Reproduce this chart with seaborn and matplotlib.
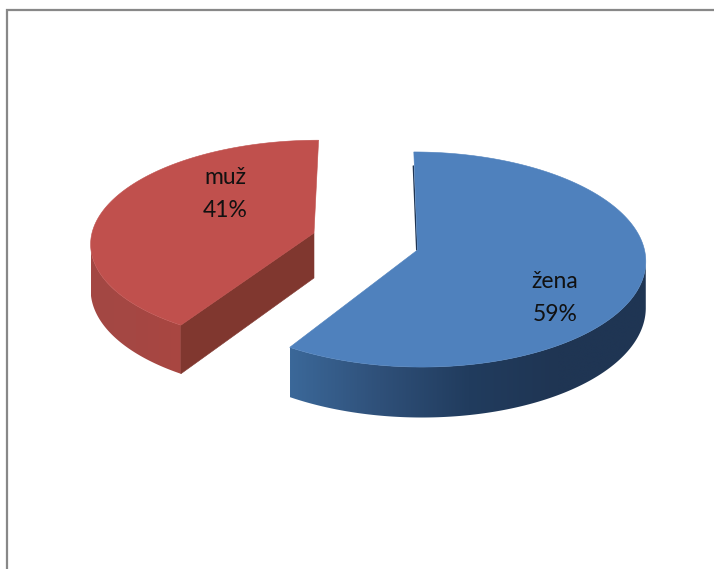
import numpy as np
import matplotlib
matplotlib.use("Agg")
import matplotlib.pyplot as plt
from matplotlib.patches import Polygon
import seaborn as sns

categories = ["žena", "muž"]
values = [59, 41]
top_colors = ["#4f81bd", "#c0504d"]
wall_ramps = [["#3b6899", "#2f5079", "#213c5e", "#1f3553", "#1f3553"],
              ["#a34844", "#a54743", "#a94641"]]
cut_colors = ["#1f3553", "#80372f"]

# layout of each exploded slice: centre x, centre y, radii, perspective, skew, depth
layouts = [dict(xc=417.5, yc=250, a=227, b=106.7, k=0.0884, skew=4, d=46),
           dict(xc=314, yc=233, a=222, b=101, k=0.0884, skew=-5, d=45)]
label_pos = [(555, 298), (225, 194)]

sns.set_theme(style="white")
plt.rcParams["font.family"] = ["Lato", "DejaVu Sans"]
fig = plt.figure(figsize=(7.14, 5.69), dpi=100)
ax = fig.add_axes([0, 0, 1, 1])

# chart frame (right and bottom run off the crop)
ax.plot([7, 7, 720], [575, 10, 10], color="#888888", lw=1.6, solid_joinstyle="miter")


def project(theta, L, drop=0.0):
    u, v = np.sin(theta), -np.cos(theta)
    w = 1 - L["k"] * v
    return (L["xc"] + L["a"] * u / w + L["skew"] * v / w,
            L["yc"] + L["b"] * v / w + drop * L["d"] / w)


total = sum(values)
start = 0.0
for i, val in enumerate(values):
    L = layouts[i]
    end = start + 2 * np.pi * val / total
    th = np.linspace(start, end, 361)
    cx, cy = L["xc"], L["yc"]

    # curved outer wall: horizontal colour ramp clipped to the visible rim
    front = th[-np.cos(th) >= L["k"]]
    x0, y0 = project(front, L)
    x1, y1 = project(front, L, 1.0)
    wall = Polygon(np.c_[np.r_[x0, x1[::-1]], np.r_[y0, y1[::-1]]], closed=True,
                   transform=ax.transData, fc="none", ec="none")
    ax.add_patch(wall)
    ramp = np.array(sns.blend_palette(wall_ramps[i], n_colors=256))[None, :, :]
    im = ax.imshow(ramp, extent=(x0.min(), x0.max(), y1.max() + 2, y0.min() - 2),
                   aspect="auto", interpolation="bilinear", zorder=2)
    im.set_clip_path(wall)

    # flat cut face (front facing one only)
    if i == 1:
        xe, ye = project(np.array([start]), L)
        xb, yb = project(np.array([start]), L, 1.0)
        ax.fill([cx, xe[0], xb[0], cx], [cy, ye[0], yb[0], cy + L["d"]],
                color=cut_colors[i], lw=0.4, zorder=3)

    # top face
    xt, yt = project(th, L)
    ax.fill(np.r_[cx, xt], np.r_[cy, yt], color=top_colors[i], lw=0.4, zorder=4)
    if i == 0:
        xs, ys = project(np.array([start]), L)
        ax.plot([xs[0] - 0.5, cx - 0.8], [ys[0] + 14, cy], color=cut_colors[i], lw=1.0, zorder=3.5)

    tx, ty = label_pos[i]
    ax.text(tx, ty, f"{categories[i]}\n{val}%", ha="center", va="center",
            fontsize=16.5, color="#111111", linespacing=1.67, zorder=5)
    start = end

ax.set_xlim(0, 714)
ax.set_ylim(569, 0)
ax.axis("off")

fig.savefig("out.png", dpi=100)
